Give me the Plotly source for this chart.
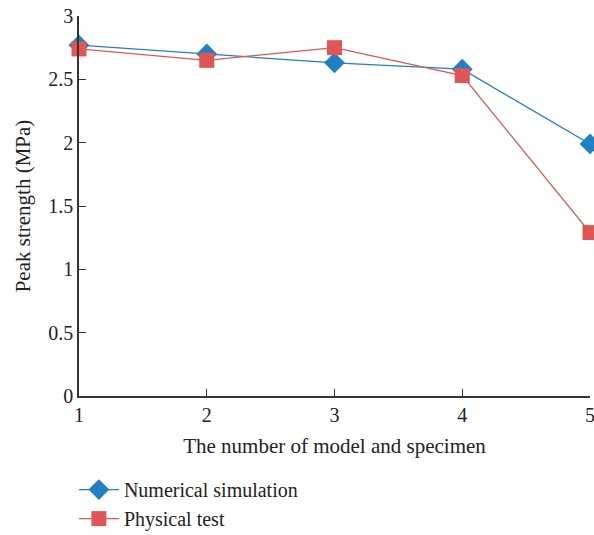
import plotly.graph_objects as go

# Specimen / model numbers and peak strengths (MPa)
specimens = [1, 2, 3, 4, 5]
numerical_simulation = [2.77, 2.70, 2.63, 2.58, 1.99]
physical_test = [2.74, 2.65, 2.75, 2.53, 1.29]

x_ticks = [1, 2, 3, 4, 5]
y_ticks = [0, 0.5, 1, 1.5, 2, 2.5, 3]
y_tick_text = ["0", "0.5", "1", "1.5", "2", "2.5", "3"]

BLUE = "#1f80c2"
RED = "#e05656"
FONT = "Liberation Serif"

fig = go.Figure()
fig.add_trace(go.Scatter(
    x=specimens, y=numerical_simulation, mode="lines+markers",
    name="Numerical simulation",
    line=dict(color=BLUE, width=1.3),
    marker=dict(symbol="diamond", size=16, color=BLUE),
    cliponaxis=False,
))
fig.add_trace(go.Scatter(
    x=specimens, y=physical_test, mode="lines+markers",
    name="Physical test",
    line=dict(color=RED, width=1.3),
    marker=dict(symbol="square", size=15, color=RED),
    cliponaxis=False,
))

axis_common = dict(
    showline=True, linecolor="#333333", linewidth=1.5,
    ticks="inside", ticklen=7, tickcolor="#333333", tickwidth=1.3,
    showgrid=False, zeroline=False, automargin=False,
    ticklabeloverflow="allow",
    tickfont=dict(family=FONT, size=20, color="#222222"),
)

fig.update_layout(
    width=594, height=535,
    margin=dict(l=79, r=4, t=16, b=139, autoexpand=False),
    paper_bgcolor="white", plot_bgcolor="white",
    font=dict(family=FONT, size=20, color="#222222"),
    xaxis=dict(
        range=[1, 5], tickvals=x_ticks,
        title=dict(text="The number of model and specimen",
                   font=dict(family=FONT, size=21), standoff=14),
        **axis_common,
    ),
    yaxis=dict(
        range=[0, 3], tickvals=y_ticks, ticktext=y_tick_text,
        title=dict(text="Peak strength (MPa)",
                   font=dict(family=FONT, size=21), standoff=12),
        **axis_common,
    ),
    legend=dict(
        orientation="v", x=-0.01, xanchor="left", y=-0.195, yanchor="top",
        font=dict(family=FONT, size=20, color="#222222"),
        itemwidth=40, tracegroupgap=0, bgcolor="rgba(0,0,0,0)",
    ),
    showlegend=True,
)

fig.write_html("out.html")
